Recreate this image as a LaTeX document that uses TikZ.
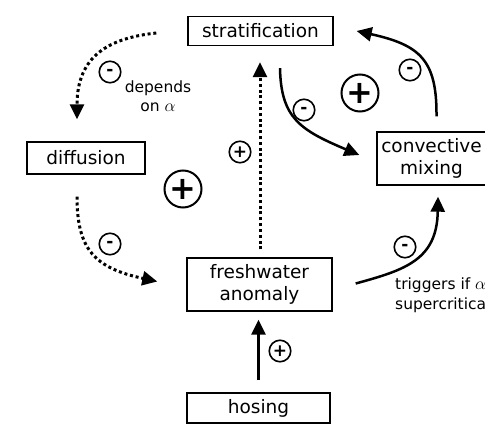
\documentclass[tikz,border=0pt]{standalone}
\usepackage{fontspec}
\setmainfont{DejaVu Sans}
\usetikzlibrary{arrows.meta,calc}
\newcommand{\bigalpha}{{\fontsize{19}{19}\selectfont$\alpha$}}
\begin{document}
\begin{tikzpicture}[x=1pt,y=-1pt,
  box/.style={draw,line width=1.4pt,inner sep=0pt,font=\fontsize{18.5}{22}\selectfont,align=center},
  solidarrow/.style={line width=2.5pt,-{Triangle[length=15pt,width=14pt]}},
  dotarrow/.style={line width=3pt,dash pattern=on 3pt off 2.8pt,-{Triangle[length=15pt,width=14pt]}},
  sign/.style={circle,draw,line width=1.6pt,minimum size=21.5pt,inner sep=0pt,font=\fontsize{17}{17}\selectfont\bfseries},
  bigsign/.style={circle,draw,line width=2pt,minimum size=37pt,inner sep=0pt,font=\fontsize{32}{32}\selectfont\bfseries},
  note/.style={font=\fontsize{15.5}{19.5}\selectfont}
]
\useasboundingbox (0,0) rectangle (485,425);
\clip (0,0) rectangle (485,425);

\node[box,minimum width=145pt,minimum height=29pt] (strat) at (260.5,31) {stratification};
\node[box,minimum width=118pt,minimum height=32pt] (diff) at (86,158) {diffusion};
\node[box,minimum width=109pt,minimum height=53pt] (conv) at (431.5,158.5) {convective\\mixing};
\node[box,minimum width=145pt,minimum height=53pt] (fresh) at (259.5,284.5) {freshwater\\anomaly};
\node[box,minimum width=143pt,minimum height=30pt] (hosing) at (258.5,408) {hosing};

\draw[dotarrow] ($(strat.west)+(-31,2)$) .. controls (110,38) and (77,55) .. ($(diff.north)+(-9,-22)$);
\draw[dotarrow] ($(diff.south)+(-9,22)$) .. controls (77,250) and (95,268) .. ($(fresh.west)+(-29,-3)$);
\draw[dotarrow] ($(fresh.north)+(0.5,-8)$) -- ($(strat.south)+(-0.5,16)$);
\draw[solidarrow] ($(strat.south)+(19.5,22)$) .. controls (281,118) and (300,130) .. ($(conv.west)+(-17,-3.5)$);
\draw[solidarrow] ($(conv.north)+(5,-15)$) .. controls (437,60) and (420,45) .. ($(strat.east)+(23,0)$);
\draw[solidarrow] ($(fresh.east)+(23,-1)$) .. controls (405,270) and (437,260) .. ($(conv.south)+(6.5,11)$);
\draw[solidarrow] ($(hosing.north)+(0,-12)$) -- ($(fresh.south)+(-1,8)$);

\node[sign] (s1) at (110,72) {-};
\node[sign] (s2) at (110,244) {-};
\node[sign] (s3) at (240,152) {+};
\node[sign] (s4) at (304,110) {-};
\node[sign] (s5) at (410,70) {-};
\node[sign] (s6) at (405,247) {-};
\node[sign] (s7) at (280,351) {+};
\node[bigsign] (b1) at (183,189) {+};
\node[bigsign] (b2) at (360,93) {+};

\node[note,align=center] (dep) at (158,96) {depends\\on \bigalpha};
\node[note,align=left,anchor=north west,inner sep=0pt] (trig) at (395,278) {triggers if \bigalpha\\supercritical};
\end{tikzpicture}
\end{document}
